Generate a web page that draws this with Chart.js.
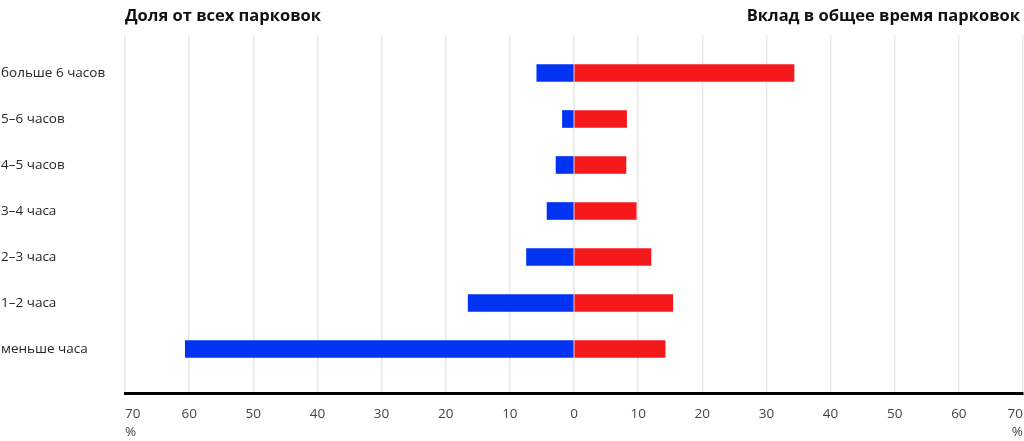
<!DOCTYPE html>
<html>
<head>
    <meta charset="utf-8">
    <title>Парковки по длительности</title>
    <style>
        html, body { margin: 0; padding: 0; background: #fff; }
        #wrap { width: 1024px; height: 441px; }
    </style>
    <script src="https://cdn.jsdelivr.net/npm/chart.js"></script>
</head>
<body>
    <div id="wrap"><canvas id="parkingChart" width="1024" height="441"></canvas></div>
    <script>
        // categories, top to bottom
        var categories = ['больше 6 часов', '5–6 часов', '4–5 часов', '3–4 часа', '2–3 часа', '1–2 часа', 'меньше часа'];
        // share of all parkings, % (drawn to the left)
        var shareOfParkings = [5.8, 1.8, 2.8, 4.2, 7.4, 16.5, 60.6];
        // contribution to total parking time, % (drawn to the right)
        var shareOfTime = [34.3, 8.2, 8.1, 9.7, 12.0, 15.4, 14.2];
        var leftTitle = 'Доля от всех парковок';
        var rightTitle = 'Вклад в общее время парковок';
        var xTicks = [-70, -60, -50, -40, -30, -20, -10, 0, 10, 20, 30, 40, 50, 60, 70];

        document.addEventListener('DOMContentLoaded', function () {
            // titles above the plot, one on each side
            var sideTitles = {
                id: 'sideTitles',
                afterDraw: function (chart) {
                    var ctx = chart.ctx;
                    var area = chart.chartArea;
                    ctx.save();
                    ctx.fillStyle = '#111';
                    ctx.font = 'bold 16.5px "Open Sans", sans-serif';
                    ctx.textBaseline = 'alphabetic';
                    ctx.textAlign = 'left';
                    ctx.fillText(leftTitle, area.left, 21);
                    ctx.textAlign = 'right';
                    ctx.fillText(rightTitle, area.right - 3, 21);
                    ctx.restore();
                }
            };

            var ctx = document.getElementById('parkingChart').getContext('2d');
            var myChart = new Chart(ctx, {
                type: 'bar',
                data: {
                    datasets: [{
                        label: leftTitle,
                        data: categories.map(function (c, i) { return { x: -shareOfParkings[i], y: i }; }),
                        backgroundColor: '#0033F2',
                        borderWidth: 0,
                        barThickness: 17,
                        grouped: false
                    }, {
                        label: rightTitle,
                        data: categories.map(function (c, i) { return { x: shareOfTime[i], y: i }; }),
                        backgroundColor: '#F5191C',
                        borderWidth: 0,
                        barThickness: 17,
                        grouped: false
                    }]
                },
                options: {
                    indexAxis: 'y',
                    responsive: false,
                    animation: false,
                    layout: {
                        padding: { top: 35, left: 1, right: 1, bottom: 0 }
                    },
                    plugins: {
                        legend: { display: false },
                        tooltip: { enabled: false }
                    },
                    scales: {
                        x: {
                            type: 'linear',
                            position: 'bottom',
                            min: -70,
                            max: 70,
                            afterBuildTicks: function (scale) {
                                scale.ticks = xTicks.map(function (v) { return { value: v }; });
                            },
                            afterFit: function (scale) {
                                scale.height = 48;
                                scale.paddingLeft = 0;
                                scale.paddingRight = 0;
                            },
                            grid: {
                                color: '#e9e9e9',
                                lineWidth: 1.5,
                                drawTicks: false
                            },
                            border: { display: true, color: '#000', width: 3 },
                            ticks: {
                                align: 'inner',
                                padding: 12,
                                color: '#444',
                                font: { family: '"Open Sans", sans-serif', size: 13.5, lineHeight: 1.35 },
                                callback: function (value) {
                                    var label = String(Math.abs(value));
                                    if (Math.abs(value) === 70) return [label, '%'];
                                    return label;
                                }
                            }
                        },
                        y: {
                            type: 'linear',
                            position: 'left',
                            reverse: true,
                            offset: false,
                            min: -0.826,
                            max: 6.957,
                            afterBuildTicks: function (scale) {
                                scale.ticks = categories.map(function (c, i) { return { value: i }; });
                            },
                            afterFit: function (scale) { scale.width = 124; },
                            grid: { display: false, offset: false },
                            border: { display: false },
                            ticks: {
                                crossAlign: 'far',
                                color: '#262626',
                                font: { family: '"Open Sans", sans-serif', size: 13.5 },
                                callback: function (value) {
                                    return categories[value];
                                }
                            }
                        }
                    }
                },
                plugins: [sideTitles]
            });
        });
    </script>
</body>
</html>
